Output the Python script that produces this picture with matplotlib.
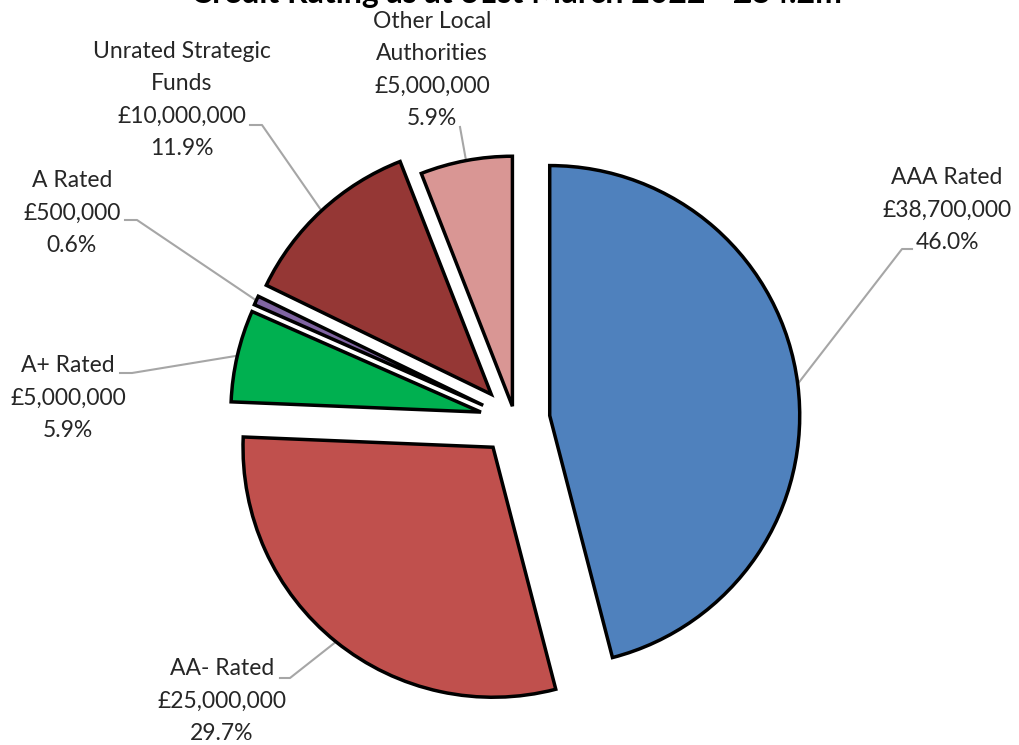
import numpy as np
import matplotlib.pyplot as plt

W, H = 1019, 745

# chart data
categories = ["AAA Rated", "AA- Rated", "A+ Rated", "A Rated",
              "Unrated Strategic\nFunds", "Other Local\nAuthorities"]
amounts = [38700000, 25000000, 5000000, 500000, 10000000, 5000000]
colors = ["#4F81BD", "#C0504D", "#00B050", "#8064A2", "#953735", "#D99694"]
explode_px = [35, 35, 35, 35, 35, 14]

# label block centres and leader stubs, pixels from top-left
label_xy = [(947, 210), (222, 701), (68, 398), (72, 213), (182, 100), (432, 70)]
stub_xy = [[(912, 249), (902, 249)], [(280, 678), (290, 678)],
           [(120, 373), (132, 373)], [(125, 220), (137, 220)],
           [(250, 125), (262, 125)], [(460, 127)]]

plt.rcParams['font.family'] = ['Lato', 'DejaVu Sans']

fig = plt.figure(figsize=(W / 100, H / 100), dpi=100)
ax = fig.add_axes([0, 0, 1, 1])


def fy(y):
    # pixel-from-top to data y
    return H - y


wedges, _ = ax.pie(amounts, colors=colors, explode=explode_px, radius=250,
                   center=(515, fy(420)), startangle=90, counterclock=False,
                   wedgeprops=dict(edgecolor='black', linewidth=2.5),
                   frame=True)
ax.set_xlim(0, W)
ax.set_ylim(0, H)
ax.set_aspect('equal')
ax.axis('off')

total = sum(amounts)
for w, cat, amt, (lx, ly), stub in zip(wedges, categories, amounts, label_xy, stub_xy):
    pct = amt / total * 100
    txt = f"{cat}\n£{amt:,.0f}\n{pct:.1f}%"
    ax.text(lx, fy(ly), txt, ha='center', va='center', fontsize=16.5,
            color='#262626', linespacing=1.66)
    # leader line to the middle of the wedge's arc
    mid = np.deg2rad((w.theta1 + w.theta2) / 2)
    cx, cy = w.center
    ex, ey = cx + w.r * np.cos(mid), cy + w.r * np.sin(mid)
    xs = [p[0] for p in stub] + [ex]
    ys = [fy(p[1]) for p in stub] + [ey]
    ax.plot(xs, ys, color='#A6A6A6', linewidth=1.5, zorder=0)

# title is clipped at the top edge, as in the original image
ax.text(516, fy(3), f"Credit Rating as at 31st March 2022 - £{total / 1e6:.1f}m",
        ha='center', va='baseline', fontsize=23, fontweight='bold', color='black')

fig.savefig("out.png", dpi=100)
